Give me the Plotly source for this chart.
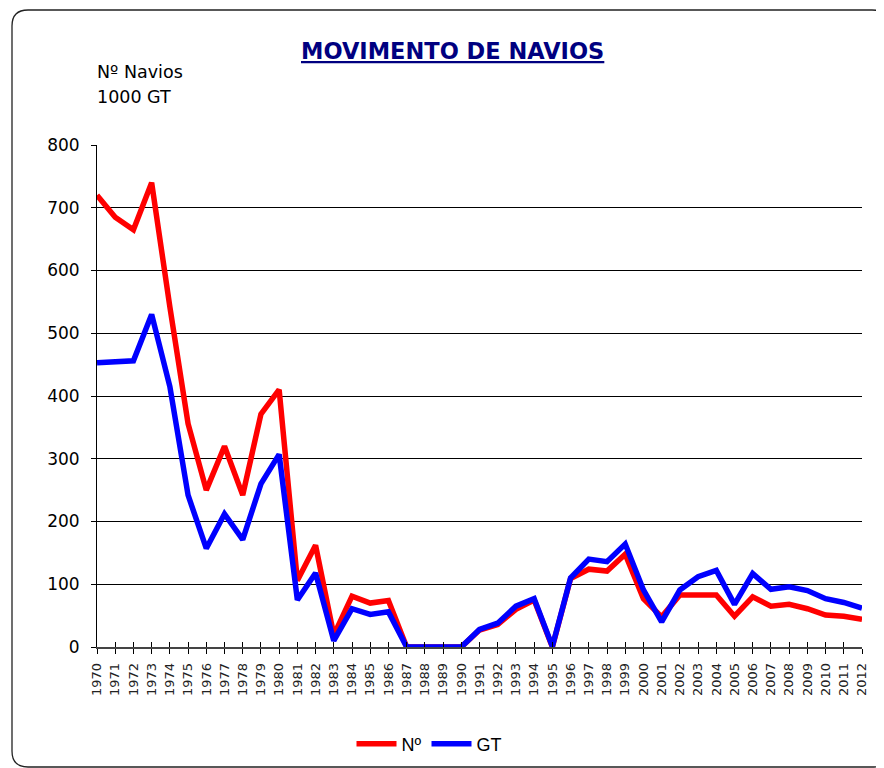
import plotly.graph_objects as go

years = list(range(1970, 2013))
navios = [720, 685, 665, 740, 542, 356, 250, 320, 242, 371, 410, 106, 162, 19, 81, 70, 74,
          0, 0, 0, 0, 27, 36, 60, 75, 0, 109, 124, 121, 148, 77, 48, 83, 83, 83, 49, 80,
          65, 68, 61, 51, 49, 44]
gt = [453, 454, 456, 530, 415, 242, 157, 212, 171, 260, 307, 75, 118, 10, 61, 52, 56,
      0, 0, 0, 0, 28, 38, 65, 77, 1, 110, 140, 136, 164, 91, 40, 91, 112, 122, 68, 117,
      92, 96, 90, 77, 71, 62]
y_ticks = [0, 100, 200, 300, 400, 500, 600, 700, 800]

# page body has an 8px margin: figure is drawn at (8, 8)
OFF = 8
W, H = 884 - OFF, 768 - OFF
L, R, T, B = 97 - OFF, 22, 145 - OFF, 121
pw, ph = W - L - R, H - T - B

def px(x):
    return (x - OFF - L) / pw

def py(y):
    return (H - B - (y - OFF)) / ph

fig = go.Figure()
fig.add_trace(go.Scatter(x=years, y=navios, mode="lines", name="Nº",
                         line=dict(color="#FF0000", width=5.5)))
fig.add_trace(go.Scatter(x=years, y=gt, mode="lines", name="GT",
                         line=dict(color="#0000FF", width=5.5)))

# rounded frame (screen pixel coords)
x0, x1, y0, y1, r = 12, 888, 10, 767, 16
rx, ry = r / pw, r / ph
X0, X1, Y0, Y1 = px(x0), px(x1), py(y1), py(y0)
path = (f"M{X0+rx},{Y1} L{X1-rx},{Y1} Q{X1},{Y1} {X1},{Y1-ry} "
        f"L{X1},{Y0+ry} Q{X1},{Y0} {X1-rx},{Y0} L{X0+rx},{Y0} "
        f"Q{X0},{Y0} {X0},{Y0+ry} L{X0},{Y1-ry} Q{X0},{Y1} {X0+rx},{Y1} Z")

fig.update_layout(
    width=W, height=H,
    margin=dict(l=L, r=R, t=T, b=B, autoexpand=False),
    paper_bgcolor="white", plot_bgcolor="white",
    showlegend=True,
    legend=dict(orientation="h", x=px(429), y=py(744), xanchor="center", yanchor="middle",
                font=dict(family="Liberation Sans", size=18, color="black"),
                itemwidth=40, tracegroupgap=0, bgcolor="rgba(0,0,0,0)"),
    shapes=[dict(type="path", xref="paper", yref="paper", path=path,
                 line=dict(color="#222222", width=1.3), layer="below")],
    annotations=[
        dict(text="<u><b>MOVIMENTO DE NAVIOS</b></u>", xref="paper", yref="paper",
             x=px(452), y=py(51), xanchor="center", yanchor="middle", showarrow=False,
             font=dict(family="DejaVu Sans", size=22.5, color="#000080")),
        dict(text="Nº Navios", xref="paper", yref="paper", x=px(95), y=py(72),
             xanchor="left", yanchor="middle", showarrow=False,
             font=dict(family="DejaVu Sans", size=17.5, color="black")),
        dict(text="1000 GT", xref="paper", yref="paper", x=px(95), y=py(97),
             xanchor="left", yanchor="middle", showarrow=False,
             font=dict(family="DejaVu Sans", size=17.5, color="black")),
    ],
    xaxis=dict(range=[1970, 2012], tickmode="array", tickvals=years,
               ticktext=[str(y) for y in years], tickangle=-90,
               ticks="outside", ticklen=5, tickcolor="black", tickwidth=1,
               showline=True, linecolor="#444444", linewidth=1.5,
               showgrid=False, zeroline=False, ticklabelstandoff=4,
               tickfont=dict(family="DejaVu Sans", size=13, color="#222222")),
    xaxis2=dict(range=[1970, 2012], overlaying="x", tickmode="array", tickvals=years,
                ticks="inside", ticklen=5, tickcolor="black", showticklabels=False,
                showgrid=False, zeroline=False, showline=False, side="bottom"),
    yaxis=dict(range=[0, 800], tickmode="array", tickvals=y_ticks,
               ticks="outside", ticklen=5, tickcolor="black",
               showline=True, linecolor="black", linewidth=1,
               showgrid=True, gridcolor="black", gridwidth=1, zeroline=False,
               ticklabelstandoff=8,
               tickfont=dict(family="DejaVu Sans", size=17, color="black")),
)
fig.add_trace(go.Scatter(x=[1970], y=[None], xaxis="x2", showlegend=False, hoverinfo="skip"))

fig.write_html("out.html")
